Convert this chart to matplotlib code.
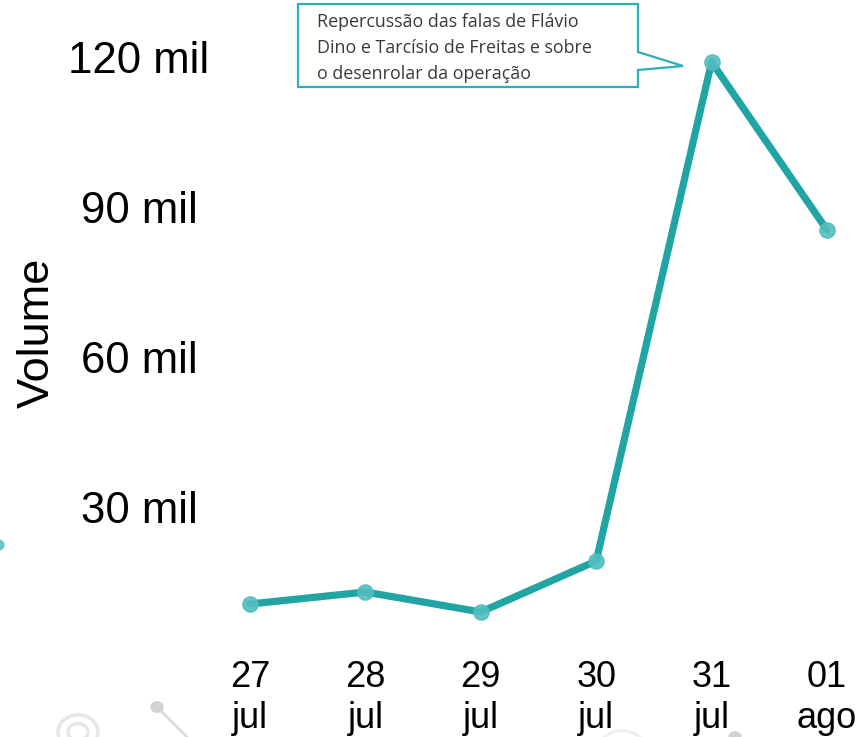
import matplotlib.pyplot as plt
from matplotlib.patches import Polygon, Circle
from matplotlib.lines import Line2D

# dados
dias = ["27\njul", "28\njul", "29\njul", "30\njul", "31\njul", "01\nago"]
volume = [10600, 13000, 9000, 19200, 119000, 85400]
yticks = [30000, 60000, 90000, 120000]
ytick_labels = ["30 mil", "60 mil", "90 mil", "120 mil"]
nota = ("Repercussão das falas de Flávio\n"
        "Dino e Tarcísio de Freitas e sobre\n"
        "o desenrolar da operação")

W, H = 861, 737
cor = "#21a4a4"

plt.rcParams["font.family"] = ["Liberation Sans", "DejaVu Sans"]
fig = plt.figure(figsize=(W / 100, H / 100), dpi=100)

def px(x, y):
    # pixel (topo-esquerda) -> fração da figura
    return x / W, 1 - y / H

ax = fig.add_axes([250 / W, 80 / H, 577 / W, 600 / H])
x = list(range(len(dias)))
ax.plot(x, volume, color=cor, lw=5.2, solid_capstyle="round",
        solid_joinstyle="round", clip_on=False, zorder=3)
ax.plot(x, volume, "o", color="#52bebe", ms=11, alpha=0.9,
        clip_on=False, zorder=4)

ax.set_xlim(0, len(dias) - 1)
ax.set_ylim(0, 120000)
ax.set_xticks(x)
ax.set_xticklabels(dias, fontsize=26, linespacing=1.22)
ax.set_yticks(yticks)
ax.set_yticklabels(ytick_labels, fontsize=31.5, ha="center")
ax.tick_params(length=0, axis="y", pad=80)
ax.tick_params(length=0, axis="x", pad=2)
for s in ax.spines.values():
    s.set_visible(False)
ax.patch.set_alpha(0)
ax.set_ylabel("Volume", fontsize=32.5)
ax.yaxis.set_label_coords(-192 / 577, 0.54)

# caixa de anotação
caixa = [(298, 4), (638, 4), (638, 52), (683, 66), (638, 70),
         (638, 87), (298, 87)]
fig.add_artist(Polygon([px(a, b) for a, b in caixa], closed=True,
                       transform=fig.transFigure, facecolor="white",
                       edgecolor="#2ab0b5", lw=1.6, zorder=5))
fig.text(*px(317, 48), nota, fontsize=12.9, family=["Open Sans", "DejaVu Sans"],
         color="#3a3a3a", va="center", ha="left", linespacing=1.55, zorder=6)

# elementos decorativos de fundo
cinza = "#e6e6e6"
fig.add_artist(Circle(px(78, 732), 20 / W, transform=fig.transFigure,
                      fill=False, ec=cinza, lw=2.5, zorder=0))
fig.add_artist(Circle(px(78, 732), 10 / W, transform=fig.transFigure,
                      fill=False, ec=cinza, lw=2.5, zorder=0))
fig.add_artist(Line2D(*zip(px(157, 707), px(195, 745)), transform=fig.transFigure,
                      color="#dadada", lw=2, zorder=0))
fig.add_artist(Circle(px(157, 707), 6 / W, transform=fig.transFigure,
                      color="#d2d2d2", zorder=0))
fig.add_artist(Circle(px(622, 752), 25 / W, transform=fig.transFigure,
                      fill=False, ec="#eeeeee", lw=2, zorder=0))
fig.add_artist(Circle(px(735, 737), 6 / W, transform=fig.transFigure,
                      color="#d2d2d2", zorder=0))
fig.add_artist(Circle(px(-2, 545), 6 / W, transform=fig.transFigure,
                      color="#6cc7c7", zorder=0))

fig.savefig("out.png", dpi=100)
